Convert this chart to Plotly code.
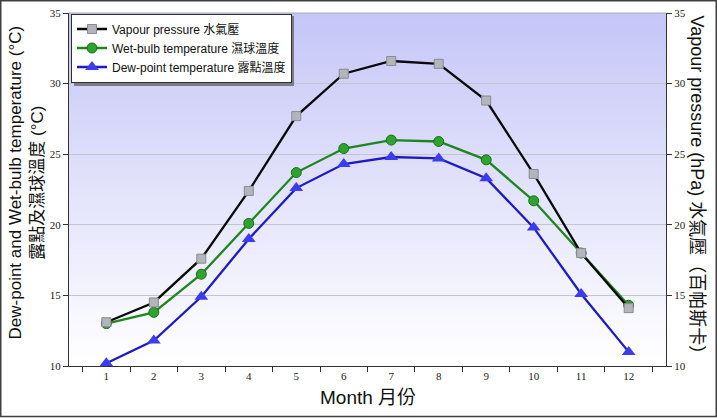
import plotly.graph_objects as go

months = ["1", "2", "3", "4", "5", "6", "7", "8", "9", "10", "11", "12"]
vapour_pressure = [13.1, 14.5, 17.6, 22.4, 27.7, 30.7, 31.6, 31.4, 28.8, 23.6, 18.0, 14.1]
wet_bulb = [13.0, 13.8, 16.5, 20.1, 23.7, 25.4, 26.0, 25.9, 24.6, 21.7, 18.0, 14.3]
dew_point = [10.2, 11.8, 14.9, 19.0, 22.6, 24.3, 24.8, 24.7, 23.3, 19.8, 15.1, 11.0]

W, H = 717, 418
ML, MR, MT, MB = 69, 51, 13, 52
PW, PH = W - ML - MR, H - MT - MB

fig = go.Figure()

fig.add_trace(go.Scatter(
    x=months, y=vapour_pressure, name="Vapour pressure 水氣壓", yaxis="y2",
    mode="lines+markers",
    line=dict(color="#0a0a0a", width=2.3),
    marker=dict(symbol="square", size=9, color="#b4b4bc", line=dict(color="#8a8a92", width=1)),
))
fig.add_trace(go.Scatter(
    x=months, y=wet_bulb, name="Wet-bulb temperature 濕球溫度",
    mode="lines+markers",
    line=dict(color="#1e861e", width=2.3),
    marker=dict(symbol="circle", size=10, color="#2fa32f", line=dict(color="#1a6e1a", width=1)),
))
fig.add_trace(go.Scatter(
    x=months, y=dew_point, name="Dew-point temperature 露點溫度",
    mode="lines+markers",
    line=dict(color="#1c1cc0", width=2.3),
    marker=dict(symbol="triangle-up", size=12, color="#3c3cee", line=dict(color="#3030d0", width=0)),
))

shapes = []
# gradient background of the plot area (overlapping bands to avoid seams)
N = 70
top = (198, 198, 248)
bot = (255, 255, 255)
for i in range(N):
    t = i / (N - 1)
    c = tuple(round(top[k] + (bot[k] - top[k]) * t) for k in range(3))
    y1 = 1 - i / N
    y0 = max(0, 1 - (i + 1.6) / N)
    shapes.append(dict(type="rect", xref="paper", yref="paper",
                       x0=0, x1=1, y0=y0, y1=y1,
                       fillcolor="rgb(%d,%d,%d)" % c, line=dict(width=0), layer="below"))
# top frame line of plot area
shapes.append(dict(type="line", xref="paper", yref="paper", x0=0, x1=1, y0=1, y1=1,
                   line=dict(color="#a8a8b4", width=1)))
# outer figure border
shapes.append(dict(type="rect", xref="paper", yref="paper",
                   x0=(0.75 - ML) / PW, x1=(W - 0.75 - ML) / PW,
                   y0=-(MB - 1.5) / PH, y1=1 + (MT - 0.75) / PH,
                   line=dict(color="#404040", width=1.5), fillcolor="rgba(0,0,0,0)"))
# legend shadow
shapes.append(dict(type="rect", xref="paper", yref="paper",
                   x0=(74 - ML) / PW, x1=(294 - ML) / PW,
                   y0=(H - MB - 86) / PH, y1=(H - MB - 16) / PH,
                   fillcolor="#7c7c84", line=dict(width=0), layer="above"))

tickfont = dict(family="Liberation Serif, Times New Roman, serif", size=11, color="#222")
cjk = "Liberation Sans, Arial, Noto Sans CJK TC, sans-serif"

fig.update_layout(
    width=W, height=H,
    margin=dict(l=ML, r=MR, t=MT, b=MB, autoexpand=False),
    paper_bgcolor="white",
    plot_bgcolor="rgba(0,0,0,0)",
    showlegend=True,
    legend=dict(x=(71 - ML) / PW, y=1 - (0.5) / PH, xanchor="left", yanchor="top",
                bgcolor="white", bordercolor="#303030", borderwidth=1,
                font=dict(family=cjk, size=12, color="#111"),
                tracegroupgap=0, itemwidth=30),
    xaxis=dict(type="category", tickson="boundaries", ticks="outside", ticklen=5,
               tickcolor="#333", showline=True, linecolor="#333", linewidth=1,
               showgrid=False, tickfont=tickfont, zeroline=False, automargin=False),
    yaxis=dict(range=[10, 35], dtick=5, ticks="outside", ticklen=5, tickcolor="#333",
               showline=True, linecolor="#333", linewidth=1, showgrid=True,
               gridcolor="#c4c4d0", gridwidth=1, tickfont=tickfont, zeroline=False,
               automargin=False),
    yaxis2=dict(range=[10, 35], dtick=5, overlaying="y", side="right", ticks="outside",
                ticklen=5, tickcolor="#333", showline=True, linecolor="#333", linewidth=1,
                showgrid=False, tickfont=tickfont, zeroline=False, automargin=False),
    shapes=shapes,
    annotations=[
        dict(text="Dew-point and Wet-bulb temperature (°C)<br>露點及濕球溫度 (°C)",
             xref="paper", yref="paper", x=-(ML - 26) / PW, y=0.52,
             xanchor="center", yanchor="middle", textangle=-90, showarrow=False,
             font=dict(family=cjk, size=17, color="#111")),
        dict(text="Vapour pressure (hPa) 水氣壓（百帕斯卡）",
             xref="paper", yref="paper", x=1 + (697 - (W - MR)) / PW, y=0.50,
             xanchor="center", yanchor="middle", textangle=90, showarrow=False,
             font=dict(family=cjk, size=18, color="#111")),
        dict(text="Month 月份", xref="paper", yref="paper", x=0.5, y=-(397 - (H - MB)) / PH,
             xanchor="center", yanchor="middle", showarrow=False,
             font=dict(family=cjk, size=19, color="#111")),
    ],
)

fig.write_html("out.html", config={"displayModeBar": False},
               post_script="document.body.style.margin='0';document.body.style.padding='0';document.body.style.overflow='hidden';")
